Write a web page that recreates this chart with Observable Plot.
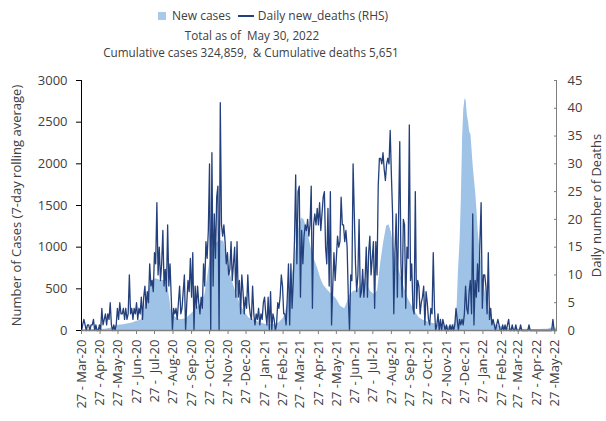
<!DOCTYPE html>
<html><head><meta charset="utf-8">
<script src="https://cdn.jsdelivr.net/npm/d3@7"></script>
<script src="https://cdn.jsdelivr.net/npm/@observablehq/plot@0.6"></script>
<style>
body{margin:0;background:#fff;font-family:"Open Sans",sans-serif;color:#404040}
#wrap{position:relative;width:606px;height:421px;overflow:hidden}
#head{position:relative;height:62px}
.t{position:absolute;white-space:pre;font-size:11.7px;line-height:13px;transform:translateX(-50%)}
#legend{position:absolute;top:9px;left:158px;display:flex;align-items:center;font-size:12px;line-height:14px;white-space:pre}
.sw{display:inline-block;width:8px;height:8px;background:#a9c9ea;margin-right:6px}
.ln{display:inline-block;width:16px;height:2.5px;background:#23407c;margin:0 4px 0 7px}
svg text{white-space:pre}
</style></head>
<body><div id="wrap">
<div id="head">
 <div id="legend"><span class="sw"></span>New cases<span class="ln"></span>Daily new_deaths (RHS)</div>
 <div class="t" style="left:252px;top:29px">Total as of  May 30, 2022</div>
 <div class="t" style="left:251px;top:45.5px">Cumulative cases 324,859,  &amp; Cumulative deaths 5,651</div>
</div>
<div id="chart"></div>
</div>
<script>
const startDate = "2020-03-27";
const endDate = "2022-05-30";

// 7-day rolling average of new cases: day offset from start, value
const caseDays = [0,20,40,50,56,58,70,85,100,104,108,112,118,125,132,140,145,150,157,165,175,184,192,200,206,210,214,218,224,230,238,242,248,254,260,266,272,280,290,300,310,320,330,338,344,350,355,360,364,368,372,378,383,388,395,400,405,412,420,426,433,440,444,448,455,462,468,474,478,483,490,495,500,505,510,514,518,522,528,534,540,546,552,558,565,572,580,590,600,610,620,625,628,630,633,635,637,639,641,643,645,647,649,651,653,655,657,659,661,663,665,667,669,671,675,679,683,687,695,705,715,730,760,780,785,794];
const caseValues = [10,12,15,30,40,60,70,90,130,200,380,470,600,620,600,600,500,250,160,130,140,200,260,330,420,600,800,950,1030,1080,1070,900,700,550,430,300,230,150,120,90,70,70,90,150,300,550,780,1050,1250,1350,1330,1200,1020,880,740,620,540,480,420,380,290,260,330,420,470,480,560,620,560,470,430,480,800,1050,1250,1270,1180,1000,800,650,500,380,300,220,150,120,100,80,60,50,45,100,300,700,1100,1600,2300,2650,2780,2760,2580,2500,2380,2350,2150,1950,1800,1650,1450,1200,1050,900,780,650,450,300,180,100,60,40,20,15,12,15,30,30];

// daily new deaths, read every second day from the start date
const deathEvery2Days = [
0,1,2,1,0,1,1,0,1,1,
2,0,1,0,0,1,0,4,1,2,
3,1,3,2,5,1,0,1,0,1,
4,2,5,3,3,4,2,4,2,3,
10,3,4,2,4,3,5,2,4,3,
6,2,6,8,4,7,5,12,8,9,
7,14,12,23,10,15,9,12,18,8,
11,7,19,8,12,6,0,4,3,4,
2,5,8,3,4,7,10,0,5,9,
7,13,6,14,0,8,4,8,5,3,
6,4,12,8,16,13,18,30,0,32,
8,21,13,24,26,0,41,19,17,19,
16,12,14,10,11,16,9,12,15,6,
16,6,9,3,10,7,3,6,4,10,
5,3,2,8,3,1,3,2,4,1,
3,2,5,6,3,1,6,0,7,0,
3,2,0,1,5,4,6,10,8,3,
3,1,6,12,1,12,4,9,16,28,
12,25,26,6,18,12,17,19,18,20,
17,19,26,4,19,21,19,22,19,23,
18,21,24,25,15,12,22,8,25,1,
8,14,9,13,17,15,16,24,19,19,
16,18,15,6,0,10,9,30,21,12,
7,10,20,6,7,11,6,9,15,6,
14,17,10,13,16,4,16,10,26,31,
31,30,32,29,27,30,31,30,36,28,
21,3,14,21,6,20,34,12,6,20,
19,4,15,13,37,9,12,4,3,25,
4,9,8,3,5,6,8,1,7,5,
2,1,4,3,14,4,0,1,3,0,
2,0,2,1,0,1,0,0,1,0,
1,0,1,4,2,0,2,1,2,1,
3,8,4,3,7,9,3,21,1,9,
6,12,7,16,23,4,10,10,8,3,
14,2,4,1,2,1,0,1,2,1,
0,0,1,0,1,0,1,2,0,0,
1,0,0,1,0,0,0,1,0,0,
0,0,0,0,1,0,0,0,0,0,
0,0,0,0,0,0,0,0,0,0,
0,0,0,0,2,0,0,0];

const tickDates = ["2020-03-27","2020-04-27","2020-05-27","2020-06-27","2020-07-27","2020-08-27","2020-09-27","2020-10-27","2020-11-27","2020-12-27","2021-01-27","2021-02-27","2021-03-27","2021-04-27","2021-05-27","2021-06-27","2021-07-27","2021-08-27","2021-09-27","2021-10-27","2021-11-27","2021-12-27","2022-01-27","2022-02-27","2022-03-27","2022-04-27","2022-05-27"];
const tickLabels = ["27 - Mar-20","27 - Apr-20","27 -May-20","27 - Jun-20","27 -  Jul-20","27 -Aug-20","27 - Sep-20","27 - Oct-20","27 -Nov-20","27 -Dec-20","27 -  Jan-21","27 - Feb-21","27 - Mar-21","27 - Apr-21","27 -May-21","27 - Jun-21","27 -  Jul-21","27 -Aug-21","27 - Sep-21","27 - Oct-21","27 -Nov-21","27 -Dec-21","27 - Jan-22","27 - Feb-22","27 - Mar-22","27 - Apr-22","27 -May-22"];
const leftTicks = [0,500,1000,1500,2000,2500,3000];
const rightTicks = [0,5,10,15,20,25,30,35,40,45];

const k = 3000/45;
const t0 = new Date(startDate + "T00:00Z");
const dayDate = i => d3.utcDay.offset(t0, i);
const cases = caseDays.map((d,i) => ({date: dayDate(d), value: caseValues[i]}));
const deaths = deathEvery2Days.map((v,i) => ({date: dayDate(i*2), value: v}));
const tDates = tickDates.map(s => new Date(s + "T00:00Z"));
const labelOf = new Map(tDates.map((d,i) => [+d, tickLabels[i]]));

const chart = Plot.plot({
  width: 606, height: 359,
  marginTop: 18, marginBottom: 91, marginLeft: 81, marginRight: 50,
  style: {fontFamily: "'Open Sans', sans-serif", fontSize: "13px", color: "#404040", background: "#fff"},
  x: {type: "utc", domain: [t0, new Date(endDate + "T00:00Z")]},
  y: {domain: [0, 3000]},
  marks: [
    Plot.areaY(cases, {x: "date", y: "value", fill: "#9fc3e7"}),
    Plot.lineY(deaths, {x: "date", y: d => d.value * k, stroke: "#23407c", strokeWidth: 1.3}),
    Plot.ruleX([t0], {stroke: "#000", strokeWidth: 1}),
    Plot.ruleX([new Date(endDate + "T00:00Z")], {stroke: "#7f7f7f", strokeWidth: 1}),
    Plot.ruleY([0], {stroke: "#7f7f7f", strokeWidth: 1.5}),
    Plot.axisY(leftTicks, {anchor: "left", tickSize: 5, tickPadding: 9, stroke: "#000",
      tickFormat: v => String(v),
      label: "Number of Cases (7-day rolling average)", labelAnchor: "center", labelArrow: "none", labelOffset: 70}),
    Plot.axisY(rightTicks.map(v => v * k), {anchor: "right", tickSize: -3, tickPadding: 14, stroke: "#7f7f7f",
      tickFormat: v => String(Math.round(v / k)),
      label: "Daily number of Deaths", labelAnchor: "center", labelArrow: "none", labelOffset: 44}),
    Plot.axisX(tDates, {anchor: "bottom", tickSize: 4, tickPadding: 5, tickRotate: -90, stroke: "#7f7f7f",
      tickFormat: d => labelOf.get(+d), label: null})
  ]
});
document.getElementById("chart").appendChild(chart);
</script>
</body></html>
